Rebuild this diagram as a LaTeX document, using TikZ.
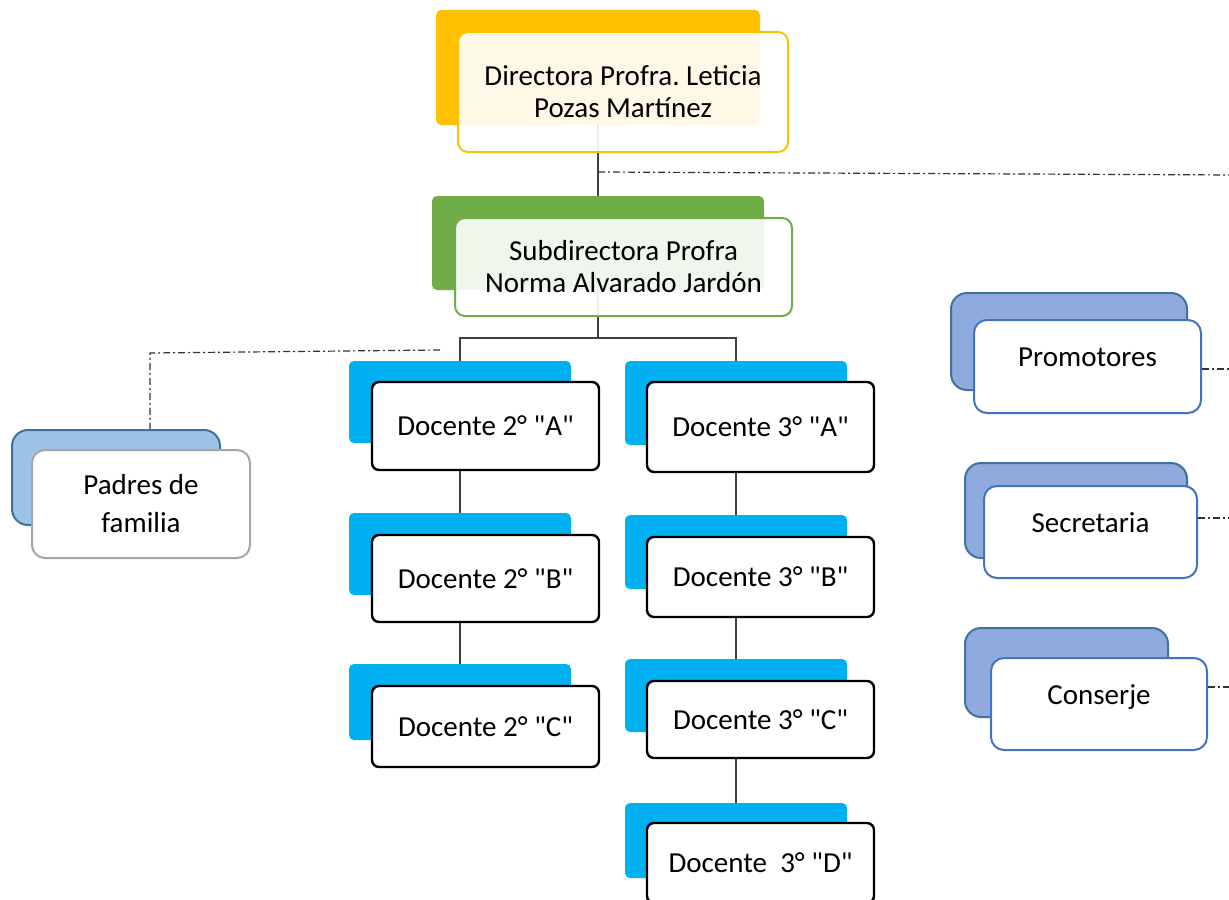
\documentclass[tikz,border=0pt]{standalone}
\usepackage{fontspec}
\setmainfont{Carlito}[Ligatures=TeXOff]
\usepackage{xcolor}
\usepackage{tikz}
\usetikzlibrary{positioning}
\frenchspacing

\definecolor{naranja}{HTML}{FFC000}
\definecolor{verde}{HTML}{70AD47}
\definecolor{cian}{HTML}{00B0F0}
\definecolor{azulclaro}{HTML}{9DC3E6}
\definecolor{lavanda}{HTML}{8FAADC}
\definecolor{azuloscuro}{HTML}{41719C}
\definecolor{azulborde}{HTML}{4472C4}
\definecolor{gris}{HTML}{A5A5A5}

\begin{document}
\begin{tikzpicture}[x=0.5pt, y=-0.5pt,
    font=\fontsize{14.5}{16}\selectfont,
    back/.style={inner sep=0pt, rounded corners=2.5pt},
    cuadro/.style={back, fill=cian, minimum width=111pt},
    grupo/.style={back, draw=azuloscuro, line width=1pt,
        rounded corners=8pt},
    front/.style={draw, fill=white, align=center, inner sep=0pt,
        rounded corners=3.5pt, line width=1pt},
    docente/.style={front, draw=black, line width=1.2pt,
        minimum width=113.5pt},
    apoyo/.style={front, draw=azulborde, rounded corners=6.5pt,
        text height=10pt, text depth=9.6pt},
    linea/.style={draw=black!75, line width=0.6pt},
    enlace/.style={draw=black!80, line width=0.6pt,
        dash pattern=on 3.5pt off 1.5pt on 1pt off 1.5pt}]

    \useasboundingbox (0,0) rectangle (1229,899);
    \clip (0,0) rectangle (1229,899);

    % fondos
    \node[back, fill=naranja,
        minimum width=162pt,
        minimum height=57.5pt]
        (directora) at (598,67.5) {};

    \node[back, fill=verde,
        minimum width=166pt,
        minimum height=47pt]
        (subdirectora) at (598,243) {};

    \node[grupo, fill=azulclaro,
        minimum width=104pt,
        minimum height=47.5pt]
        (padres) at (116,477.5) {};

    \node[cuadro, minimum height=41pt] (d2a) at (460,402) {};
    \node[cuadro, minimum height=41pt] (d2b) at (460,554) {};
    \node[cuadro, minimum height=38pt] (d2c) at (460,702) {};

    \node[cuadro, minimum height=42pt] (d3a) at (736,403) {};
    \node[cuadro, minimum height=37pt] (d3b) at (736,552) {};
    \node[cuadro, minimum height=36.5pt] (d3c) at (736,695.5) {};
    \node[cuadro, minimum height=37.5pt] (d3d) at (736,840.5) {};

    \node[grupo, fill=lavanda,
        minimum width=118pt,
        minimum height=48.5pt]
        (promotores) at (1069,341.5) {};

    \node[grupo, fill=lavanda,
        minimum width=111pt,
        minimum height=47.5pt]
        (secretaria) at (1076,510.5) {};

    \node[grupo, fill=lavanda,
        minimum width=101.5pt,
        minimum height=44.5pt]
        (conserje) at (1066.5,672.5) {};

    % conectores
    \coordinate (rama) at (598,338);

    \draw[linea] (directora.south) -- (subdirectora.north);
    \draw[linea] (subdirectora.south) -- (rama);
    \draw[linea] (rama) -| (d2a.north);
    \draw[linea] (rama) -| (d3a.north);

    \draw[linea] (d2a.south) -- (d2b.north);
    \draw[linea] (d2b.south) -- (d2c.north);

    \draw[linea] (d3a.south) -- (d3b.north);
    \draw[linea] (d3b.south) -- (d3c.north);
    \draw[linea] (d3c.south) -- (d3d.north);

    % lineas de apoyo
    \coordinate (staff) at (598,172);
    \coordinate (staffR) at (1235,175);
    \draw[enlace] (staff) -- (staffR);

    \coordinate (padresA) at (440,350);
    \coordinate (padresB) at (150,353);
    \draw[enlace] (padresA) -- (padresB) -- (padresB |- padres.north);

    % tarjetas
    \node[front, draw=naranja,
        fill opacity=0.9, text opacity=1,
        rounded corners=5pt,
        minimum width=165pt,
        minimum height=60pt]
        (directoraF) at (623,92) {Directora Profra. Leticia\\Pozas Martínez};

    \node[front, draw=verde,
        fill opacity=0.9, text opacity=1,
        rounded corners=5pt,
        minimum width=168.5pt,
        minimum height=49pt]
        (subdirectoraF) at (623.5,267) {Subdirectora Profra\\Norma Alvarado Jardón};

    \node[front, draw=gris,
        rounded corners=6.5pt,
        minimum width=109pt,
        minimum height=54pt]
        (padresF) at (141,504) {Padres de\\[3pt]familia};

    \node[docente, minimum height=44pt] (d2aF) at (485.5,426) {Docente 2° "A"};
    \node[docente, minimum height=43.5pt] (d2bF) at (485.5,578.5) {Docente 2° "B"};
    \node[docente, minimum height=40.5pt] (d2cF) at (485.5,726.5) {Docente 2° "C"};

    \node[docente, minimum height=45pt] (d3aF) at (760.5,427) {Docente 3° "A"};
    \node[docente, minimum height=40pt] (d3bF) at (760.5,577) {Docente 3° "B"};
    \node[docente, minimum height=38.5pt] (d3cF) at (760.5,719.5) {Docente 3° "C"};
    \node[docente, minimum height=40pt] (d3dF) at (760.5,863) {Docente~~3° "D"};

    \node[apoyo,
        minimum width=113.5pt,
        minimum height=46.5pt]
        (promotoresF) at (1087.5,366.5) {Promotores};

    \node[apoyo,
        minimum width=106.5pt,
        minimum height=46pt]
        (secretariaF) at (1090.5,532) {Secretaria};

    \node[apoyo,
        minimum width=108pt,
        minimum height=46pt]
        (conserjeF) at (1099,704) {Conserje};

    \coordinate (promotoresR) at (1235,369);
    \coordinate (secretariaR) at (1235,518);
    \coordinate (conserjeR) at (1235,687);

    \draw[enlace] (promotoresF.east |- promotoresR) -- (promotoresR);
    \draw[enlace] (secretariaF.east |- secretariaR) -- (secretariaR);
    \draw[enlace] (conserjeF.east |- conserjeR) -- (conserjeR);

\end{tikzpicture}
\end{document}
